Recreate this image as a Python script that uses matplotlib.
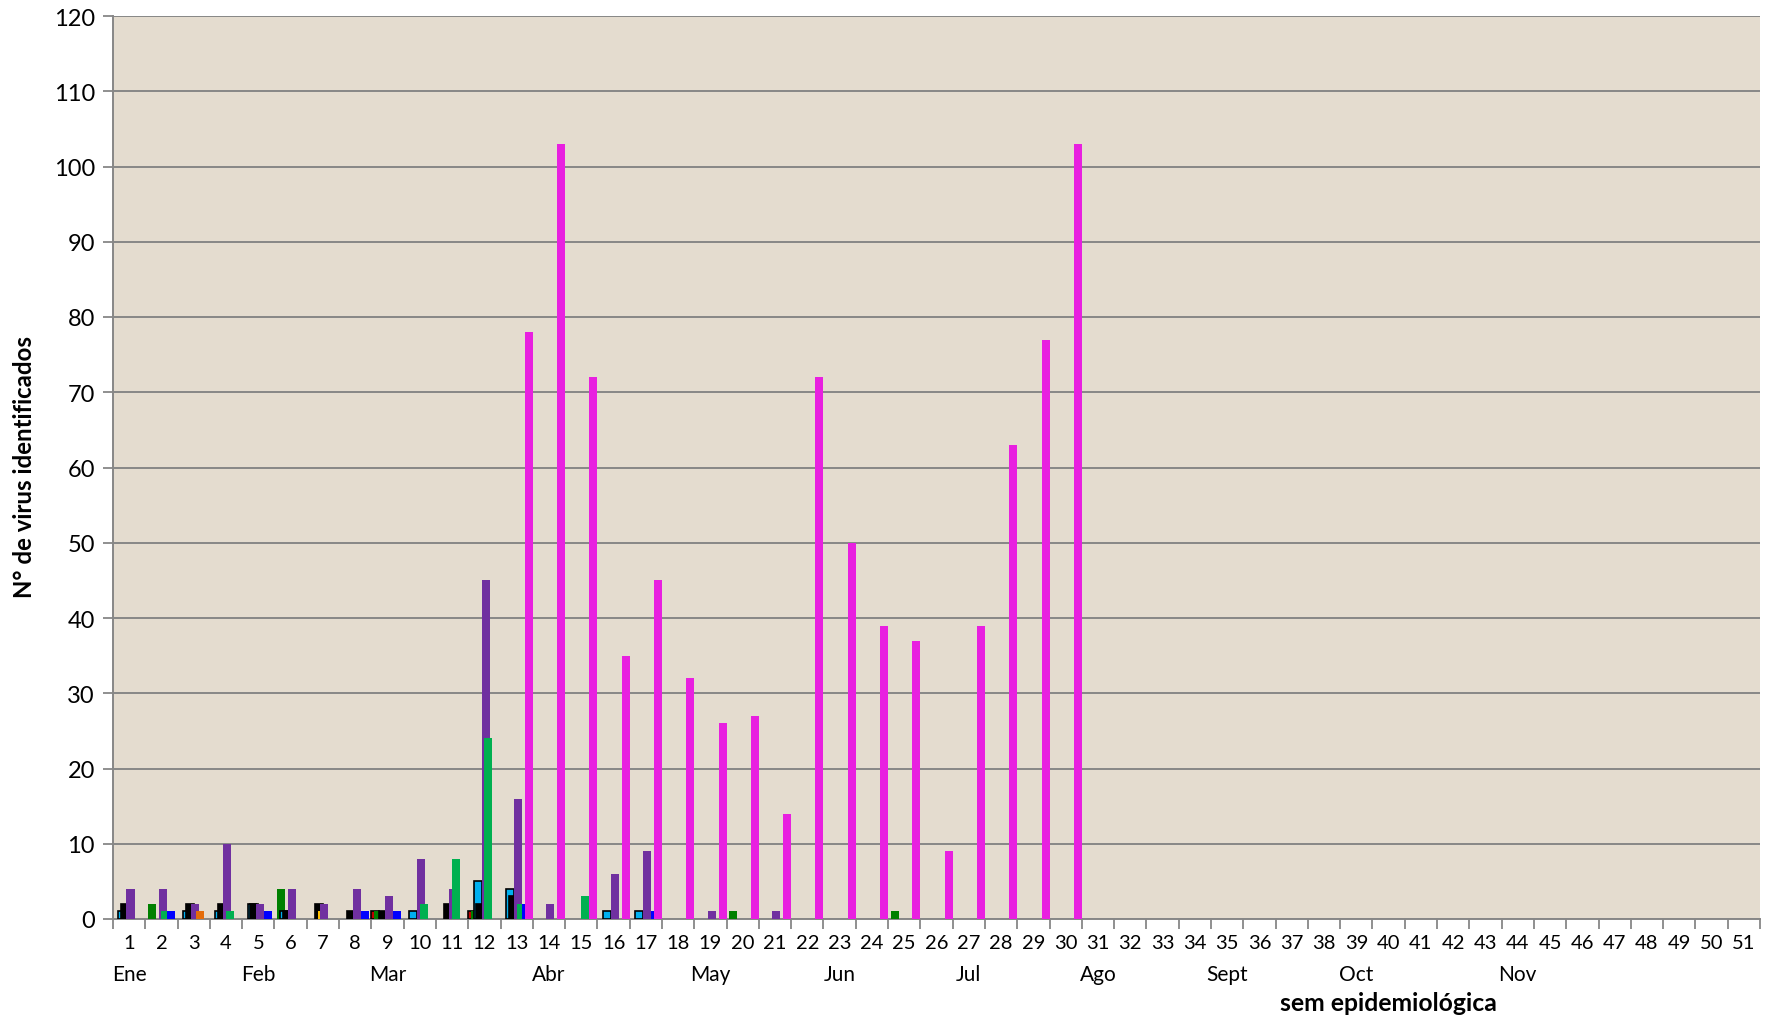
import numpy as np
import matplotlib.pyplot as plt
import matplotlib.transforms as mtransforms

plt.rcParams['font.family'] = ['Lato', 'DejaVu Sans']

# --- dati: virus identificati per settimana epidemiologica ---
semanas = list(range(1, 52))

rojo     = {9: 1, 12: 1}
verde_os = {2: 2, 6: 4, 9: 1, 12: 1, 20: 1, 25: 1}
celeste  = {1: 1, 3: 1, 4: 1, 5: 2, 6: 1, 10: 1, 12: 5, 13: 4, 16: 1, 17: 1}
negro    = {1: 2, 3: 2, 4: 2, 5: 2, 6: 1, 7: 2, 8: 1, 9: 1, 11: 2, 12: 2, 13: 3}
amarillo = {7: 1}
violeta  = {1: 4, 2: 4, 3: 2, 4: 10, 5: 2, 6: 4, 7: 2, 8: 4, 9: 3, 10: 8,
            11: 4, 12: 45, 13: 16, 14: 2, 16: 6, 17: 9, 19: 1, 21: 1}
verde    = {2: 1, 4: 1, 10: 2, 11: 8, 12: 24, 13: 2, 15: 3}
naranja  = {3: 1}
azul     = {2: 1, 5: 1, 8: 1, 9: 1, 13: 2, 17: 1}
magenta  = dict(zip(range(13, 31),
                    [78, 103, 72, 35, 45, 32, 26, 27, 14, 72, 50, 39, 37, 9, 39, 63, 77, 103]))

meses = ['Ene', 'Feb', 'Mar', 'Abr', 'May', 'Jun', 'Jul', 'Ago', 'Sept', 'Oct', 'Nov']
sem_meses = [1, 5, 9, 14, 19, 23, 27, 31, 35, 39, 44]

# (serie, colore, bordo)
serie = [
    (rojo, '#c00000', 'black'),
    (verde_os, '#008000', None),
    (celeste, '#00b0f0', 'black'),
    (negro, '#000000', 'black'),
    (amarillo, '#ffc000', None),
    (violeta, '#7030a0', None),
    (verde, '#00b050', None),
    (naranja, '#e46c0a', None),
    (azul, '#0000ff', None),
    (magenta, '#e820e0', None),
]

fig = plt.figure(figsize=(17.75, 10.2), dpi=100)
ax = fig.add_axes([113/1775, 100/1020, 1647/1775, 903/1020])
ax.set_facecolor('#e4dccf')

paso = 0.0836
ancho = 0.248
for i, (datos, col, borde) in enumerate(serie):
    xs = [s - 0.5 + i*paso for s in datos]
    ax.bar(xs, list(datos.values()), width=ancho, align='edge', color=col,
           edgecolor=borde if borde else col, linewidth=1.2 if borde else 0,
           zorder=3 + i)

ax.set_xlim(0.5, 51.5)
ax.set_ylim(0, 120)
ax.set_yticks(range(0, 121, 10))
ax.yaxis.grid(True, color='#878787', linewidth=1.4)
ax.set_axisbelow(True)

ax.set_xticks(semanas)
ax.set_xticklabels([str(s) for s in semanas], fontsize=14.5)
ax.set_xticks(np.arange(0.5, 52, 1), minor=True)
ax.tick_params(axis='x', which='major', length=0, pad=11)
ax.tick_params(axis='x', which='minor', length=7, color='#878787', width=1.3)
ax.tick_params(axis='y', labelsize=17, length=7, color='#878787', width=1.3, pad=6)

for lado in ['top', 'right']:
    ax.spines[lado].set_visible(False)
for lado in ['left', 'bottom']:
    ax.spines[lado].set_color('#878787')
    ax.spines[lado].set_linewidth(1.4)

trans = mtransforms.blended_transform_factory(ax.transData, ax.transAxes)
for m, s in zip(meses, sem_meses):
    ax.text(s, -0.061, m, transform=trans, ha='center', va='center', fontsize=15)

fig.text(1388/1775, 1 - 1004/1020, 'sem epidemiológica', ha='center', va='center',
         fontsize=17.8, fontweight='bold')
fig.text(25/1775, 1 - 467/1020, 'N° de virus identificados', ha='center', va='center',
         rotation=90, fontsize=17.3, fontweight='bold')

fig.savefig('out.png', dpi=100)
